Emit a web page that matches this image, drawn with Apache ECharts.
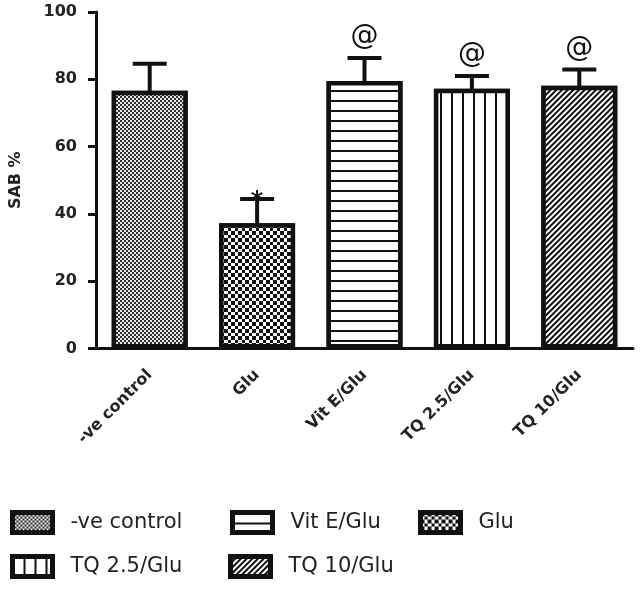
<!DOCTYPE html>
<html>
<head>
<meta charset="utf-8">
<script src="https://cdn.jsdelivr.net/npm/echarts@6/dist/echarts.min.js"></script>
<style>
  html, body { margin: 0; padding: 0; background: #fff; }
  #chart { width: 641px; height: 594px; }
</style>
</head>
<body>
<div id="chart"></div>
<script>
// groups on the x axis
const categories = ['-ve control', 'Glu', 'Vit E/Glu', 'TQ 2.5/Glu', 'TQ 10/Glu'];
// mean SAB % and upper error (SEM)
const means = [76.6, 37.2, 79.5, 77.2, 78.1];
const sems = [8.0, 7.2, 6.8, 3.8, 4.8];
// significance marks above the error bars
const marks = ['', '*', '@', '@', '@'];
const yTicks = [0, 20, 40, 60, 80, 100];
// legend order as in the figure (two rows)
const legendNames = ['-ve control', 'Vit E/Glu', 'Glu', 'TQ 2.5/Glu', 'TQ 10/Glu'];

const font = 'DejaVu Sans';
const ink = '#111';

// hatch patterns, one per group
const decals = {
  '-ve control': { symbol: 'rect', symbolSize: 1, symbolKeepAspect: false, color: '#e8e8e8', backgroundColor: '#333',
    dashArrayX: [[2, 2], [0, 2, 2, 0]], dashArrayY: [2, 0], rotation: 0 },
  'Glu': { symbol: 'rect', symbolSize: 1, symbolKeepAspect: false, color: ink, backgroundColor: '#fff',
    dashArrayX: [[4, 3], [0, 4, 3, 0]], dashArrayY: [4, 0, 3, 0], rotation: 0 },
  'Vit E/Glu': { symbol: 'rect', symbolSize: 1, symbolKeepAspect: false, color: ink, backgroundColor: '#fff',
    dashArrayX: [10, 0], dashArrayY: [2, 8], rotation: 0 },
  'TQ 2.5/Glu': { symbol: 'rect', symbolSize: 1, symbolKeepAspect: false, color: ink, backgroundColor: '#fff',
    dashArrayX: [2, 9], dashArrayY: [10, 0], rotation: 0 },
  'TQ 10/Glu': { symbol: 'rect', symbolSize: 1, symbolKeepAspect: false, color: ink, backgroundColor: '#fff',
    dashArrayX: [10, 0], dashArrayY: [2, 2], rotation: -Math.PI / 4 }
};

const legendPos = [[10, 510], [230, 510], [418, 510], [10, 554], [228, 554]];

const chart = echarts.init(document.getElementById('chart'));

const barSeries = categories.map((name, i) => ({
  name: name,
  type: 'bar',
  stack: 'groups',
  barWidth: 76,
  data: categories.map((c, j) => (j === i ? means[i] : '-')),
  itemStyle: { color: '#fff', borderColor: ink, borderWidth: 4.5, decal: decals[name] },
  emphasis: { disabled: true },
  z: 2
}));

const errorSeries = {
  type: 'custom',
  z: 5,
  silent: true,
  data: means.map((m, i) => [i, m, sems[i]]),
  renderItem: function (params, api) {
    const i = api.value(0);
    const base = api.coord([i, api.value(1)]);
    const top = api.coord([i, api.value(1) + api.value(2)]);
    const half = 17;
    const kids = [
      { type: 'line', shape: { x1: base[0], y1: base[1] + 2, x2: top[0], y2: top[1] }, style: { stroke: ink, lineWidth: 4 } },
      { type: 'line', shape: { x1: top[0] - half, y1: top[1], x2: top[0] + half, y2: top[1] }, style: { stroke: ink, lineWidth: 4 } }
    ];
    const mark = marks[params.dataIndex];
    if (mark === '@') {
      kids.push({ type: 'text', x: top[0], y: top[1] - 21,
        style: { text: mark, fill: ink, font: '28px "DejaVu Sans"', align: 'center', verticalAlign: 'middle' } });
    } else if (mark) {
      kids.push({ type: 'text', x: top[0], y: top[1] + 3,
        style: { text: mark, fill: ink, font: 'bold 24px "DejaVu Sans"', align: 'center', verticalAlign: 'middle' } });
    }
    return { type: 'group', children: kids };
  }
};

const option = {
  animation: false,
  aria: { enabled: true, decal: { show: true } },
  grid: { left: 95, right: 8, top: 12, bottom: 245.5 },
  legend: legendNames.map((n, k) => ({
    data: [n],
    left: legendPos[k][0],
    top: legendPos[k][1],
    padding: 0,
    icon: 'rect',
    itemWidth: 40,
    itemHeight: 20,
    selectedMode: false,
    itemStyle: { borderWidth: 5, borderColor: ink },
    textStyle: { fontFamily: font, fontSize: 21, color: '#222', padding: [0, 0, 0, 13] }
  })),
  xAxis: {
    type: 'category',
    data: categories,
    axisLine: { lineStyle: { color: ink, width: 3 } },
    axisTick: { alignWithLabel: true, length: 8, lineStyle: { color: ink, width: 3 } },
    axisLabel: { rotate: 45, interval: 0, margin: 24, fontFamily: font, fontWeight: 'bold', fontSize: 16, color: '#222' }
  },
  yAxis: {
    type: 'value',
    min: yTicks[0],
    max: yTicks[yTicks.length - 1],
    interval: yTicks[1] - yTicks[0],
    name: 'SAB %',
    nameLocation: 'middle',
    nameGap: 72,
    nameTextStyle: { fontFamily: font, fontWeight: 'bold', fontSize: 16, color: '#222' },
    axisLine: { show: true, lineStyle: { color: ink, width: 3 } },
    axisTick: { show: true, length: 8, lineStyle: { color: ink, width: 3 } },
    splitLine: { show: false },
    axisLabel: { margin: 19, fontFamily: font, fontWeight: 'bold', fontSize: 16, color: '#222' }
  },
  series: barSeries.concat([errorSeries])
};

chart.setOption(option);
</script>
</body>
</html>
